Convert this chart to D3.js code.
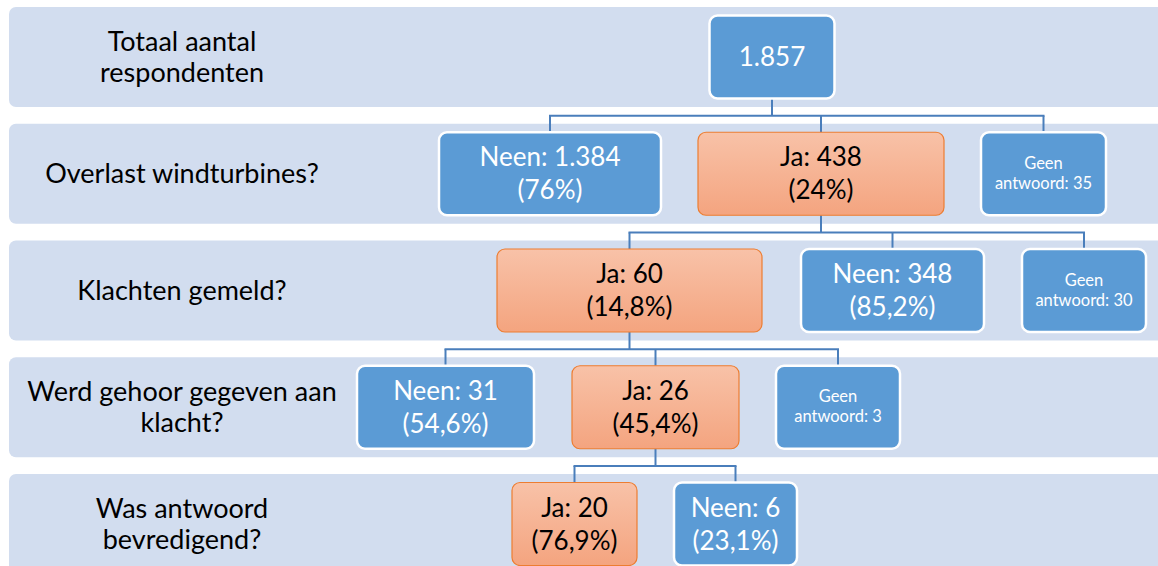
<!DOCTYPE html>
<html>
<head>
<meta charset="utf-8">
<script src="https://cdn.jsdelivr.net/npm/d3@7"></script>
<style>
  html, body { margin: 0; padding: 0; background: #fff; }
  svg { display: block; font-family: Lato, "Open Sans", sans-serif; }
</style>
</head>
<body>
<svg id="chart" width="1158" height="566"></svg>
<script>
// questions (one per row), each as lines of text
var questions = [
  ["Totaal aantal", "respondenten"],
  ["Overlast windturbines?"],
  ["Klachten gemeld?"],
  ["Werd gehoor gegeven aan", "klacht?"],
  ["Was antwoord", "bevredigend?"]
];

// answer nodes
var nodeIds     = ["root", "n1", "j1", "g1", "j2", "n2", "g2", "n3", "j3", "g3", "j4", "n4"];
var nodeParents = [null, "root", "root", "root", "j1", "j1", "j1", "j2", "j2", "j2", "j3", "j3"];
var nodeLevels  = [0, 1, 1, 1, 2, 2, 2, 3, 3, 3, 4, 4];
var nodeKinds   = ["total", "neen", "ja", "geen", "ja", "neen", "geen", "neen", "ja", "geen", "ja", "neen"];
var nodeLines   = [
  ["1.857"],
  ["Neen: 1.384", "(76%)"],
  ["Ja: 438", "(24%)"],
  ["Geen", "antwoord: 35"],
  ["Ja: 60", "(14,8%)"],
  ["Neen: 348", "(85,2%)"],
  ["Geen", "antwoord: 30"],
  ["Neen: 31", "(54,6%)"],
  ["Ja: 26", "(45,4%)"],
  ["Geen", "antwoord: 3"],
  ["Ja: 20", "(76,9%)"],
  ["Neen: 6", "(23,1%)"]
];

// layout: box centre and width in pixels (kept apart from the data)
var boxCx = [772, 550, 821, 1043.5, 629.5, 892.5, 1084, 445.5, 655.5, 838, 574.5, 735.5];
var boxW  = [125, 222, 246, 125, 265, 183, 124, 177, 167, 124, 125, 123];

var svg = d3.select("#chart");
var W = +svg.attr("width");

var rowY = d3.scaleLinear().domain([0, 1]).range([7, 123.75]);
var bandH = 100, boxH = 83, boxOff = 8.5;
var labelX = 182;

var defs = svg.append("defs");
var grad = defs.append("linearGradient")
    .attr("id", "orangeGrad")
    .attr("x1", 0).attr("y1", 0).attr("x2", 0).attr("y2", 1);
grad.append("stop").attr("offset", "0%").attr("stop-color", "#F8C2A8");
grad.append("stop").attr("offset", "100%").attr("stop-color", "#F4A47F");

// row bands
var rows = svg.append("g").selectAll("g.row")
    .data(questions)
    .enter().append("g")
    .attr("class", "row")
    .attr("transform", (d, i) => "translate(0," + rowY(i) + ")");

rows.append("rect")
    .attr("x", 9)
    .attr("width", W - 9 + 10)
    .attr("height", bandH)
    .attr("rx", 7)
    .style("fill", "#D2DDEF");

rows.append("text")
    .attr("text-anchor", "middle")
    .style("font-size", "27px")
    .style("fill", "#000")
    .each(function(d) {
      var t = d3.select(this);
      var lh = 31;
      d.forEach((line, k) => {
        t.append("tspan")
          .attr("x", labelX)
          .attr("y", bandH / 2 + (k - (d.length - 1) / 2) * lh + 9)
          .text(line);
      });
    });

// nodes
var nodes = nodeIds.map((id, i) => ({
  id: id, parent: nodeParents[i], level: nodeLevels[i], kind: nodeKinds[i],
  lines: nodeLines[i], cx: boxCx[i], w: boxW[i]
}));
nodes.forEach(n => { n.top = rowY(n.level) + boxOff; });

// connectors
var lineColor = "#4A7EBB";
var conn = svg.append("g")
    .style("stroke", lineColor)
    .style("stroke-width", 2)
    .style("fill", "none");

nodes.filter(n => nodes.some(c => c.parent === n.id)).forEach(p => {
  var kids = nodes.filter(c => c.parent === p.id);
  var hy = rowY(p.level + 1) - 8;
  var xs = kids.map(k => k.cx).concat([p.cx]);
  conn.append("line")
    .attr("x1", p.cx).attr("x2", p.cx)
    .attr("y1", p.top + boxH).attr("y2", hy);
  conn.append("line")
    .attr("x1", d3.min(xs) - 1).attr("x2", d3.max(xs) + 1)
    .attr("y1", hy).attr("y2", hy);
  kids.forEach(k => {
    conn.append("line")
      .attr("x1", k.cx).attr("x2", k.cx)
      .attr("y1", hy).attr("y2", k.top);
  });
});

var box = svg.append("g").selectAll("g.node")
    .data(nodes)
    .enter().append("g")
    .attr("class", "node")
    .attr("transform", d => "translate(" + (d.cx - d.w / 2) + "," + d.top + ")");

box.append("rect")
    .attr("width", d => d.w)
    .attr("height", boxH)
    .attr("rx", 8)
    .style("fill", d => d.kind === "ja" ? "url(#orangeGrad)" : "#5B9BD5")
    .style("stroke", d => d.kind === "ja" ? "#ED7D31" : "#fff")
    .style("stroke-width", d => d.kind === "ja" ? 1.2 : 2.5);

box.append("text")
    .attr("text-anchor", "middle")
    .style("fill", d => d.kind === "ja" ? "#000" : "#fff")
    .style("font-size", d => d.kind === "geen" ? "16.5px" : "26px")
    .each(function(d) {
      var t = d3.select(this);
      var small = d.kind === "geen";
      var lh = small ? 20 : 33;
      var off = small ? 5 : 9;
      d.lines.forEach((line, k) => {
        t.append("tspan")
          .attr("x", d.w / 2)
          .attr("y", boxH / 2 + (k - (d.lines.length - 1) / 2) * lh + off)
          .text(line);
      });
    });
</script>
</body>
</html>
